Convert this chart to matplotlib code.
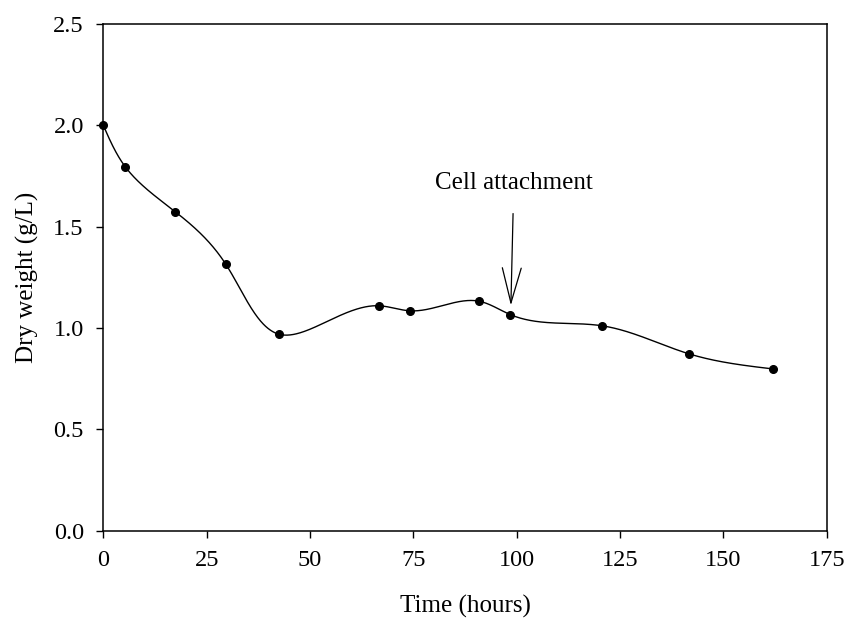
import numpy as np
import matplotlib
matplotlib.use("Agg")
import matplotlib.pyplot as plt

time_h = [0.0, 5.3, 17.4, 29.6, 42.6, 66.6, 74.2, 91.0, 98.5, 120.7, 141.8, 162.1]
dry_weight = [2.00, 1.796, 1.574, 1.316, 0.969, 1.110, 1.085, 1.132, 1.066, 1.011, 0.872, 0.798]
x_ticks = [0, 25, 50, 75, 100, 125, 150, 175]
y_ticks = [0.0, 0.5, 1.0, 1.5, 2.0, 2.5]


def natural_coeffs(t, y):
    m = len(t)
    h = np.diff(t)
    A = np.zeros((m, m))
    b = np.zeros(m)
    A[0, 0] = 1
    A[-1, -1] = 1
    for i in range(1, m - 1):
        A[i, i - 1] = h[i - 1]
        A[i, i] = 2 * (h[i - 1] + h[i])
        A[i, i + 1] = h[i]
        b[i] = 6 * ((y[i + 1] - y[i]) / h[i] - (y[i] - y[i - 1]) / h[i - 1])
    return np.linalg.solve(A, b)


def eval_natural(t, y, ts):
    M = natural_coeffs(t, y)
    m = len(t)
    idx = np.clip(np.searchsorted(t, ts) - 1, 0, m - 2)
    x0, x1 = t[idx], t[idx + 1]
    hh = x1 - x0
    t0 = x1 - ts
    t1 = ts - x0
    return (M[idx] * t0 ** 3 / (6 * hh) + M[idx + 1] * t1 ** 3 / (6 * hh)
            + (y[idx] / hh - M[idx] * hh / 6) * t0
            + (y[idx + 1] / hh - M[idx + 1] * hh / 6) * t1)


X = np.asarray(time_h, float)
Y = np.asarray(dry_weight, float)

# smooth parametric spline through the data points (chord-length parameter)
sx, sy = 4.134, 202.7
chord = np.concatenate([[0], np.cumsum(np.hypot(np.diff(X * sx), np.diff(Y * sy)))])
ts = np.linspace(0, chord[-1], 1500)
xs_p = eval_natural(chord, X, ts)
ys_p = eval_natural(chord, Y, ts)

plt.rcParams['font.family'] = ['Liberation Serif', 'DejaVu Serif']
fs = 17.5

fig = plt.figure(figsize=(8.46, 6.19), dpi=100)
ax = fig.add_axes([0.1221, 0.1426, 0.9772 - 0.1221, 0.9612 - 0.1426])

ax.plot(xs_p, ys_p, color='black', lw=1.0)
ax.plot(time_h, dry_weight, 'o', color='black', markersize=5.5, clip_on=False, zorder=3)

ax.set_xlim(0, 175)
ax.set_ylim(0, 2.5)
ax.set_xticks(x_ticks)
ax.set_xticklabels([str(t) for t in x_ticks], fontsize=fs)
ax.set_yticks(y_ticks)
ax.set_yticklabels([f"{t:.1f}" for t in y_ticks], fontsize=fs)
ax.tick_params(direction='out', length=5, width=1.0, top=False, right=False, pad=9)
for s in ax.spines.values():
    s.set_linewidth(1.1)

ax.set_xlabel('Time (hours)', fontsize=18, labelpad=17)
ax.set_ylabel('Dry weight (g/L)', fontsize=18, labelpad=10)

ax.annotate('Cell attachment', xy=(98.6, 1.112), xytext=(99.3, 1.715),
            fontsize=18, ha='center', va='center',
            arrowprops=dict(arrowstyle='->,head_length=1.26,head_width=0.34',
                            mutation_scale=20, color='black', lw=0.9,
                            shrinkA=12, shrinkB=0))

fig.savefig('out.png', dpi=100)
